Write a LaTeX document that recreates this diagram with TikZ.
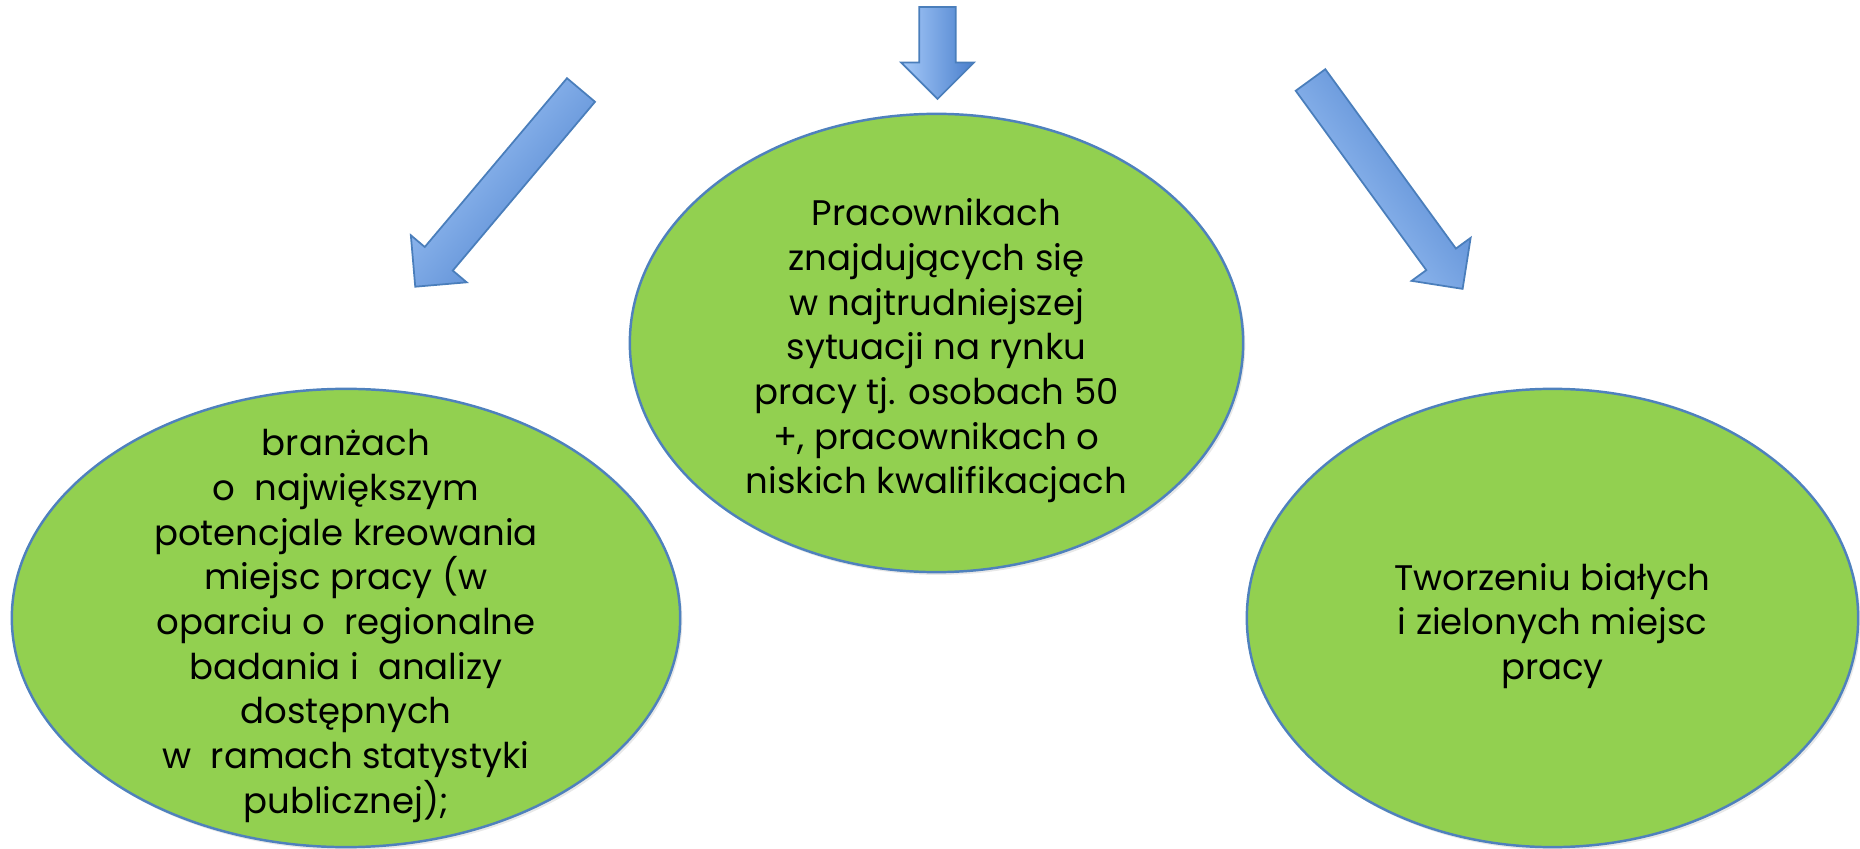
\documentclass[tikz,border=0pt]{standalone}
\usepackage{fontspec}
\setmainfont{Poppins}
\usetikzlibrary{calc}
\usetikzlibrary{shapes.geometric}
\usetikzlibrary{shadows}

\definecolor{leafgreen}{HTML}{92D050}
\definecolor{rimblue}{HTML}{4F81BD}
\definecolor{arrowlight}{HTML}{A6CAF9}
\definecolor{arrowdark}{HTML}{4A7FCC}
\definecolor{arrowrim}{HTML}{4A7EBB}

% block arrow from tail #1 to tip #2
\newcommand{\blockarrow}[2]{%
  \path let \p1 = ($(#2)-(#1)$), \n1 = {atan2(\y1,\x1)}, \n2 = {veclen(\x1,\y1)} in
    \pgfextra{\xdef\arrowangle{\n1}\xdef\arrowlength{\n2}};
  \begin{scope}[shift={(#1)}, rotate=\arrowangle]
    \shade[arrowbody, shading angle=\arrowangle] (0pt,-0.183cm) -- ({\arrowlength+0pt-0.365cm},-0.183cm)
      -- ({\arrowlength+0pt-0.365cm},-0.365cm) -- ({\arrowlength+0pt},0pt)
      -- ({\arrowlength+0pt-0.365cm},0.365cm) -- ({\arrowlength+0pt-0.365cm},0.183cm)
      -- (0pt,0.183cm) -- cycle;
  \end{scope}}

\begin{document}
\begin{tikzpicture}[x=0.01cm, y=-0.01cm,
    bubble/.style={ellipse, draw=rimblue, line width=0.7pt, fill=leafgreen, inner sep=0pt,
      drop shadow={shadow xshift=0.6pt, shadow yshift=-0.8pt, opacity=0.18}},
    bubbletext/.style={align=center, inner sep=0pt, font=\fontsize{10.1}{12.7}\selectfont},
    arrowbody/.style={draw=arrowrim, line width=0.5pt, bottom color=arrowlight, top color=arrowdark}]
  \useasboundingbox (0,0) rectangle (1860,849);

  \node[bubble, minimum width=6.68cm, minimum height=4.58cm] (sectors) at (346,618) {};
  \node[bubble, minimum width=6.13cm, minimum height=4.58cm] (workers) at (936.5,343) {};
  \node[bubble, minimum width=6.11cm, minimum height=4.58cm] (jobs) at (1552.5,618) {};

  \node[bubbletext] (sectorstext) at ($(sectors)+(0,8)$)
    {branżach\\o\ \ największym\\potencjale kreowania\\miejsc pracy (w\\oparciu o\ \ regionalne\\badania i\ \ analizy\\dostępnych\\w\ \ ramach statystyki\\publicznej);};
  \node[bubbletext] (workerstext) at ($(workers)+(0,8)$)
    {Pracownikach\\znajdujących się\\w najtrudniejszej\\sytuacji na rynku\\pracy tj. osobach 50\\+, pracownikach o\\niskich kwalifikacjach};
  \node[bubbletext] (jobstext) at ($(jobs)+(0,8)$)
    {Tworzeniu białych\\i zielonych miejsc\\pracy};

  \coordinate (lefttail) at (581,90);
  \coordinate (lefthead) at (415,287);
  \coordinate (midtail) at (937.5,7);
  \coordinate (midhead) at (937.5,99);
  \coordinate (righttail) at (1310.5,80);
  \coordinate (righthead) at (1462.7,289);

  \blockarrow{lefttail}{lefthead}
  \blockarrow{midtail}{midhead}
  \blockarrow{righttail}{righthead}
\end{tikzpicture}
\end{document}
